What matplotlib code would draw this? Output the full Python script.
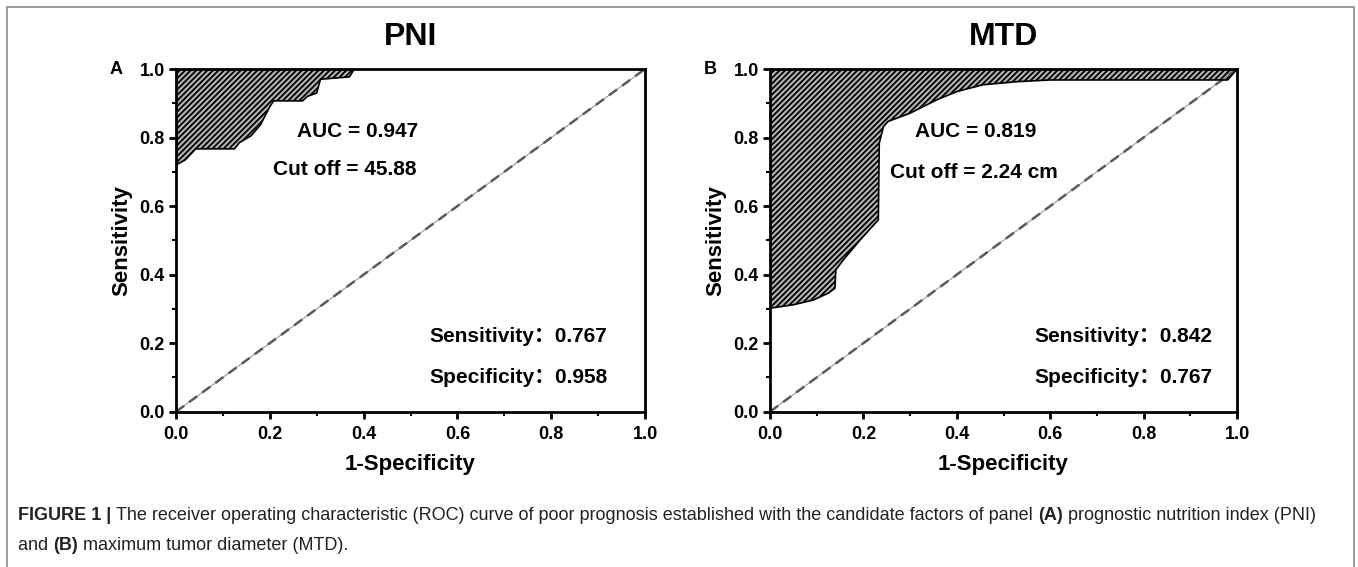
import matplotlib
matplotlib.use('Agg')
import matplotlib.pyplot as plt
from matplotlib.patches import Rectangle

# ROC curves read as (1-specificity, sensitivity) pairs
fpr_pni = [0.0, 0.0, 0.02, 0.042, 0.125, 0.135, 0.16, 0.18, 0.2, 0.208, 0.27, 0.28, 0.3, 0.308, 0.37, 0.38, 1.0]
tpr_pni = [0.0, 0.72, 0.735, 0.767, 0.767, 0.785, 0.805, 0.837, 0.89, 0.907, 0.907, 0.92, 0.93, 0.97, 0.977, 1.0, 1.0]

fpr_mtd = [0.0, 0.0, 0.05, 0.093, 0.125, 0.139, 0.141, 0.157, 0.193, 0.232, 0.234, 0.243, 0.253,
           0.3, 0.357, 0.4, 0.456, 0.529, 0.6, 0.98, 1.0]
tpr_mtd = [0.0, 0.302, 0.312, 0.326, 0.346, 0.36, 0.414, 0.443, 0.501, 0.56, 0.784, 0.832, 0.847,
           0.871, 0.91, 0.934, 0.954, 0.963, 0.968, 0.968, 1.0]

titles  = ['PNI', 'MTD']
letters = ['A', 'B']
auc     = [0.947, 0.819]
cutoffs = ['45.88', '2.24 cm']
sens    = [0.767, 0.842]
spec    = [0.958, 0.767]

plt.rcParams['font.family'] = ['Liberation Sans', 'Noto Sans CJK SC', 'DejaVu Sans']
plt.rcParams['hatch.linewidth'] = 1.3
CAPTION = ['Liberation Sans']

W, H = 1358, 567
fig = plt.figure(figsize=(W / 100, H / 100), dpi=100)

# outer frame around figure and caption
fig.patches.append(Rectangle((7 / W, -0.05), (1354 - 7) / W, (H - 7) / H + 0.05,
                             transform=fig.transFigure, fill=False,
                             edgecolor='#8a8a8a', linewidth=1.2))

boxes = [[176 / W, (H - 411.7) / H, 469 / W, 342.7 / H],
         [770 / W, (H - 411.7) / H, 467 / W, 342.7 / H]]
curves = [(fpr_pni, tpr_pni), (fpr_mtd, tpr_mtd)]
auc_xy = [(0.258, 0.818), (0.31, 0.818)]
cut_xy = [(0.207, 0.706), (0.256, 0.697)]
sr_x   = [0.92, 0.947]

for i in range(2):
    ax = fig.add_axes(boxes[i])
    fpr, tpr = curves[i]

    ax.fill_between(fpr, tpr, 1.0, facecolor='#b4b4b4', edgecolor='black',
                    hatch='//////', linewidth=0, zorder=1)
    ax.plot(fpr, tpr, color='black', linewidth=1.2, zorder=3)

    # chance line
    ax.plot([0, 1], [0, 1], color='#8c8c8c', linewidth=0.7, zorder=2)
    ax.plot([0, 1], [0, 1], color='#5a5a5a', linewidth=1.8, dashes=(4, 2.5), zorder=2)

    ax.set_xlim(0, 1)
    ax.set_ylim(0, 1)
    ax.set_xticks([0, 0.2, 0.4, 0.6, 0.8, 1.0])
    ax.set_yticks([0, 0.2, 0.4, 0.6, 0.8, 1.0])
    ax.set_xticks([0.1, 0.3, 0.5, 0.7, 0.9], minor=True)
    ax.set_yticks([0.1, 0.3, 0.5, 0.7, 0.9], minor=True)
    ax.set_xticklabels(['%.1f' % v for v in ax.get_xticks()], fontweight='bold', fontsize=13)
    ax.set_yticklabels(['%.1f' % v for v in ax.get_yticks()], fontweight='bold', fontsize=13)
    ax.tick_params(which='major', direction='out', length=5, width=2, pad=3)
    ax.tick_params(axis='x', which='major', pad=5)
    ax.tick_params(which='minor', direction='out', length=3, width=1.5)
    for s in ax.spines.values():
        s.set_linewidth(2)
        s.set_zorder(4)

    ax.set_xlabel('1-Specificity', fontsize=16, fontweight='bold', labelpad=8)
    ax.set_ylabel('Sensitivity', fontsize=16, fontweight='bold', labelpad=5)
    ax.set_title(titles[i], fontsize=23, fontweight='bold', pad=17)
    ax.text(-0.113, 1.0, letters[i], transform=ax.transAxes, fontsize=13,
            fontweight='bold', ha='right', va='center')

    ax.text(auc_xy[i][0], auc_xy[i][1], 'AUC = %.3f' % auc[i], fontsize=15,
            fontweight='bold', ha='left', va='center', zorder=5)
    ax.text(cut_xy[i][0], cut_xy[i][1], 'Cut off = ' + cutoffs[i], fontsize=15,
            fontweight='bold', ha='left', va='center', zorder=5)
    ax.text(sr_x[i], 0.218, 'Sensitivity：%.3f' % sens[i], fontsize=15,
            fontweight='bold', ha='right', va='center', zorder=5)
    ax.text(sr_x[i], 0.1, 'Specificity：%.3f' % spec[i], fontsize=15,
            fontweight='bold', ha='right', va='center', zorder=5)

# caption, set run by run so the bold pieces sit inline
lines = [
    [('FIGURE 1 | ', 'bold'),
     ('The receiver operating characteristic (ROC) curve of poor prognosis established with the '
      'candidate factors of panel ', 'normal'),
     ('(A)', 'bold'),
     (' prognostic nutrition index (PNI)', 'normal')],
    [('and ', 'normal'), ('(B)', 'bold'), (' maximum tumor diameter (MTD).', 'normal')],
]
line_y = [516, 545]
for runs, yp in zip(lines, line_y):
    x = 18
    for s, w in runs:
        tt = fig.text(x / W, 1 - yp / H, s, family=CAPTION, fontsize=13, fontweight=w,
                      color='#222222', va='center')
        fig.canvas.draw()
        x = tt.get_window_extent().x1

fig.savefig('out.png', dpi=100)
